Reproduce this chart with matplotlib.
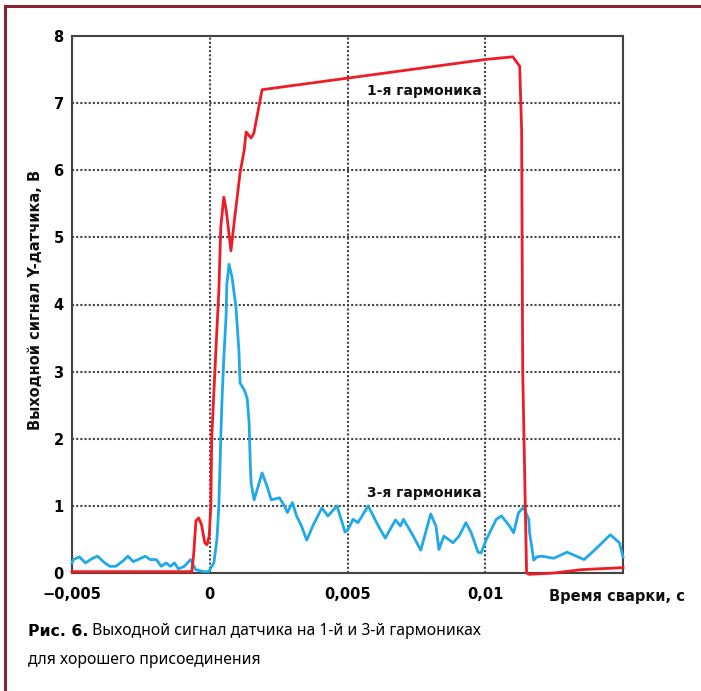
import matplotlib
matplotlib.use("Agg")
import matplotlib.pyplot as plt
from matplotlib.lines import Line2D

# ---- data ----
x_h1 = [-0.005, -0.00065, -0.00058, -0.0005, -0.0004, -0.0003, -0.00018, -0.0001, -0.00002,
        0.00004, 0.00007, 0.00022, 0.00033, 0.0004, 0.00051, 0.0006, 0.00077, 0.00088,
        0.0011, 0.00125, 0.00132, 0.0015, 0.0016, 0.0019, 0.0100, 0.0110, 0.01125,
        0.01132, 0.01136, 0.0115, 0.0116, 0.0125, 0.0135, 0.015]
y_h1 = [0.02, 0.02, 0.3, 0.78, 0.82, 0.72, 0.45, 0.42, 0.55,
        1.0, 2.0, 3.3, 4.2, 5.15, 5.6, 5.4, 4.8, 5.2,
        5.96, 6.3, 6.57, 6.48, 6.55, 7.2, 7.65, 7.69, 7.55,
        6.6, 3.0, 0.0, -0.02, 0.0, 0.05, 0.08]

x_h3 = [-0.005, -0.00495, -0.00473, -0.00451, -0.00425, -0.00407, -0.00381, -0.00363, -0.00341,
        -0.00315, -0.00297, -0.00278, -0.0026, -0.00234, -0.00216, -0.00194, -0.00176, -0.00158,
        -0.00143, -0.00128, -0.00114, -0.00092, -0.0007, -0.00051, -0.00022, -0.00004, 0.00015,
        0.00026, 0.00033, 0.0004, 0.00044, 0.00051, 0.00059, 0.00062, 0.0007, 0.00081, 0.00095,
        0.00106, 0.0011, 0.00125, 0.00136, 0.00143, 0.00147, 0.0015, 0.00161, 0.0019, 0.00209,
        0.00223, 0.00253, 0.00271, 0.00282, 0.003, 0.00315, 0.00333, 0.00352, 0.00374, 0.00407,
        0.00429, 0.00462, 0.00491, 0.00502, 0.0052, 0.00538, 0.00575, 0.00612, 0.00637, 0.00674,
        0.00692, 0.00703, 0.00736, 0.00766, 0.00802, 0.00821, 0.00832, 0.0085, 0.00883, 0.00905,
        0.0093, 0.00949, 0.00974, 0.00985, 0.01004, 0.0104, 0.01059, 0.01088, 0.01103, 0.01121,
        0.01139, 0.01158, 0.01161, 0.01176, 0.01187, 0.01205, 0.01249, 0.01297, 0.01359, 0.01399,
        0.01454, 0.01487, 0.015]
y_h3 = [0.15, 0.2, 0.24, 0.15, 0.22, 0.25, 0.15, 0.1, 0.1,
        0.18, 0.25, 0.17, 0.2, 0.25, 0.2, 0.2, 0.1, 0.15,
        0.1, 0.15, 0.06, 0.1, 0.2, 0.05, 0.02, 0.02, 0.15,
        0.5, 1.0, 2.0, 2.53, 3.2, 3.8, 4.3, 4.6, 4.4, 3.97,
        3.3, 2.83, 2.73, 2.6, 2.23, 1.64, 1.34, 1.09, 1.49, 1.28,
        1.09, 1.12, 1.0, 0.9, 1.05, 0.85, 0.7, 0.49, 0.7, 0.97,
        0.85, 1.0, 0.61, 0.65, 0.8, 0.75, 1.0, 0.7, 0.52, 0.79,
        0.7, 0.8, 0.57, 0.34, 0.88, 0.7, 0.35, 0.55, 0.45, 0.55,
        0.75, 0.6, 0.31, 0.3, 0.5, 0.8, 0.85, 0.7, 0.6, 0.9,
        0.98, 0.8, 0.6, 0.19, 0.24, 0.25, 0.22, 0.31, 0.2, 0.35,
        0.57, 0.45, 0.24]

x_ticks = [-0.005, 0.0, 0.005, 0.01, 0.015]
x_ticklabels = ["\u22120,005", "0", "0,005", "0,01", ""]
y_ticks = [0, 1, 2, 3, 4, 5, 6, 7, 8]
y_ticklabels = ["0", "1", "2", "3", "4", "5", "6", "7", "8"]

x_title = "Время сварки, с"
y_title = "Выходной сигнал Y-датчика, В"
label_h1 = "1-я гармоника"
label_h3 = "3-я гармоника"
caption_bold = "Рис. 6."
caption_line1 = " Выходной сигнал датчика на 1-й и 3-й гармониках"
caption_line2 = "для хорошего присоединения"

# ---- figure ----
W, H = 701, 691
fig = plt.figure(figsize=(W / 100, H / 100), dpi=100)
fig.patch.set_facecolor("white")

ax = fig.add_axes([72 / W, 1 - 573 / H, (623 - 72) / W, (573 - 36) / H])
ax.set_xlim(-0.005, 0.015)
ax.set_ylim(0, 8)

cond = ["DejaVu Sans"]

ax.set_xticks(x_ticks)
ax.set_xticklabels(x_ticklabels, fontsize=10.5, fontweight="bold", family=cond)
ax.set_yticks(y_ticks)
ax.set_yticklabels(y_ticklabels, fontsize=10.5, fontweight="bold", family=cond)
ax.tick_params(axis="x", length=0, pad=10)
ax.tick_params(axis="y", length=0, pad=6)

dot = (0, (1, 1))
ax.grid(True, color="#444444", linestyle=dot, linewidth=1.5)
for sp in ax.spines.values():
    sp.set_linestyle(dot)
    sp.set_linewidth(1.5)
    sp.set_color("#444444")
ax.set_axisbelow(True)

ax.plot(x_h3, y_h3, color="#1fa9ea", linewidth=2.0, clip_on=False, zorder=3)
ax.plot(x_h1, y_h1, color="#ee1c25", linewidth=2.0, clip_on=False, zorder=4)

ax.text(0.0078, 7.18, label_h1, fontsize=10, family=cond, fontweight="bold",
        ha="center", va="center", color="#111111")
ax.text(0.0078, 1.19, label_h3, fontsize=10, family=cond, fontweight="bold",
        ha="center", va="center", color="#111111")

fig.text(617 / W, 1 - 597 / H, x_title, fontsize=10.5, family=cond, fontweight="bold",
         ha="center", va="center", color="#111111")
fig.text(36 / W, 1 - 300 / H, y_title, fontsize=10.5, family=cond, fontweight="bold",
         rotation=90, ha="center", va="center", color="#111111")

# caption
t1 = fig.text(28 / W, 1 - 631 / H, caption_bold, fontsize=11.3, fontweight="bold",
              family=["DejaVu Sans"], ha="left", va="center")
fig.canvas.draw()
bb = t1.get_window_extent()
fig.text(bb.x1 / W, 1 - 631 / H, caption_line1, fontsize=11.3, fontweight="light",
         family=["Noto Sans", "DejaVu Sans"], ha="left", va="center")
fig.text(28 / W, 1 - 660 / H, caption_line2, fontsize=11.3, fontweight="light",
         family=["Noto Sans", "DejaVu Sans"], ha="left", va="center")

# frame border (top and left)
bcol = "#8b2230"
fig.add_artist(Line2D([5 / W, 1.0], [1 - 6 / H, 1 - 6 / H], color=bcol, linewidth=2.2,
                      transform=fig.transFigure))
fig.add_artist(Line2D([5 / W, 5 / W], [0.0, 1 - 6 / H], color=bcol, linewidth=2.2,
                      transform=fig.transFigure))

fig.savefig("out.png", dpi=100)
